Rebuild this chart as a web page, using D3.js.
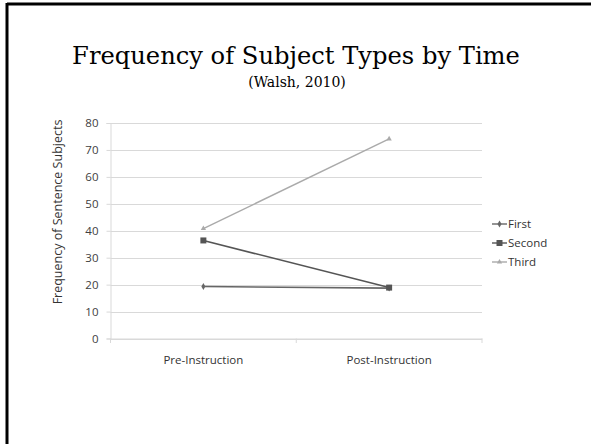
<!DOCTYPE html>
<html><head><meta charset="utf-8">
<script src="https://cdn.jsdelivr.net/npm/d3@7"></script>
<style>body{margin:0;background:#fff}svg{display:block}</style>
</head><body>
<script>
const categories = ["Pre-Instruction", "Post-Instruction"];
const seriesNames = ["First", "Second", "Third"];
const firstValues = [19.3, 18.7];
const secondValues = [36.4, 18.9];
const thirdValues = [40.8, 74.1];
const yTicks = [0, 10, 20, 30, 40, 50, 60, 70, 80];
const titleText = "Frequency of Subject Types by Time";
const subtitleText = "(Walsh, 2010)";
const yAxisTitle = "Frequency of Sentence Subjects";

const W = 591, H = 444;
const svg = d3.select("body").append("svg").attr("width", W).attr("height", H);

// slide border (top and left)
svg.append("line").attr("x1", 7).attr("x2", W).attr("y1", 4).attr("y2", 4).attr("stroke", "#000").attr("stroke-width", 3);
svg.append("line").attr("x1", 7).attr("x2", 7).attr("y1", 3).attr("y2", H).attr("stroke", "#000").attr("stroke-width", 3);

svg.append("text").attr("x", 296).attr("y", 64).attr("text-anchor", "middle")
  .attr("font-family", "DejaVu Serif, serif").attr("font-size", 24.2).attr("fill", "#000").text(titleText);
svg.append("text").attr("x", 297).attr("y", 87).attr("text-anchor", "middle")
  .attr("font-family", "DejaVu Serif, serif").attr("font-size", 14).attr("fill", "#000").text(subtitleText);

const x = d3.scalePoint().domain(categories).range([110.5, 482]).padding(0.5);
const xBand = d3.scaleBand().domain(categories).range([110.5, 482]);
const y = d3.scaleLinear().domain([0, 80]).range([338.5, 123]);

const g = svg.append("g");
// gridlines
g.selectAll("line.grid").data(yTicks).join("line")
  .attr("x1", 110.5).attr("x2", 482).attr("y1", d => Math.round(y(d)) + 0.5).attr("y2", d => Math.round(y(d)) + 0.5)
  .attr("stroke", "#d9d9d9").attr("stroke-width", 1);

// y axis
const yAxis = d3.axisLeft(y).tickValues(yTicks).tickSize(4).tickPadding(8);
const ya = g.append("g").attr("transform", "translate(110.5,0)").call(yAxis);
ya.select(".domain").attr("stroke", "#d9d9d9");
ya.selectAll(".tick line").attr("stroke", "#d9d9d9");
ya.selectAll(".tick text").attr("font-family", "Open Sans, Liberation Sans, sans-serif").attr("font-size", 11.5).attr("fill", "#404040");

// x axis
const xAxis = d3.axisBottom(xBand).tickSize(0).tickPadding(17);
const xa = g.append("g").attr("transform", "translate(0,338.5)").call(xAxis);
xa.select(".domain").attr("stroke", "#d9d9d9");
xa.selectAll(".tick text").attr("font-family", "Open Sans, Liberation Sans, sans-serif").attr("font-size", 11.5).attr("fill", "#333");
const bounds = [110.5, xBand("Post-Instruction"), 482];
g.selectAll("line.xt").data(bounds).join("line")
  .attr("x1", d => d).attr("x2", d => d).attr("y1", 338.5).attr("y2", 343).attr("stroke", "#d9d9d9");

const series = [
  {name: seriesNames[0], values: firstValues, color: "#666", width: 1.6, marker: "diamond"},
  {name: seriesNames[1], values: secondValues, color: "#555", width: 1.6, marker: "square"},
  {name: seriesNames[2], values: thirdValues, color: "#aaa", width: 1.4, marker: "triangle"}
];
const symbolFor = m => m === "diamond" ? d3.symbol(d3.symbolDiamond, 14) : m === "square" ? d3.symbol(d3.symbolSquare, 36) : d3.symbol(d3.symbolTriangle, 12);

const line = d3.line().x((d, i) => x(categories[i])).y(d => y(d));
series.forEach(s => {
  g.append("path").datum(s.values).attr("d", line).attr("fill", "none").attr("stroke", s.color).attr("stroke-width", s.width);
  g.selectAll(null).data(s.values).join("path")
    .attr("transform", (d, i) => `translate(${x(categories[i])},${y(d)})`)
    .attr("d", symbolFor(s.marker)()).attr("fill", s.color);
});

// legend
const lg = svg.append("g").attr("transform", "translate(492,224)");
series.forEach((s, i) => {
  const r = lg.append("g").attr("transform", `translate(0,${i * 19})`);
  r.append("line").attr("x1", 0).attr("x2", 15).attr("y1", 0).attr("y2", 0).attr("stroke", s.color).attr("stroke-width", 1.4);
  r.append("path").attr("transform", "translate(7.5,0)").attr("d", symbolFor(s.marker)()).attr("fill", s.color);
  r.append("text").attr("x", 16).attr("y", 0).attr("dy", "0.35em")
    .attr("font-family", "Open Sans, Liberation Sans, sans-serif").attr("font-size", 11.5).attr("fill", "#333").text(s.name);
});

svg.append("text").attr("transform", "translate(62,212) rotate(-90)").attr("text-anchor", "middle")
  .attr("font-family", "Open Sans, Liberation Sans, sans-serif").attr("font-size", 12.5).attr("fill", "#333").text(yAxisTitle);
</script>
</body></html>
